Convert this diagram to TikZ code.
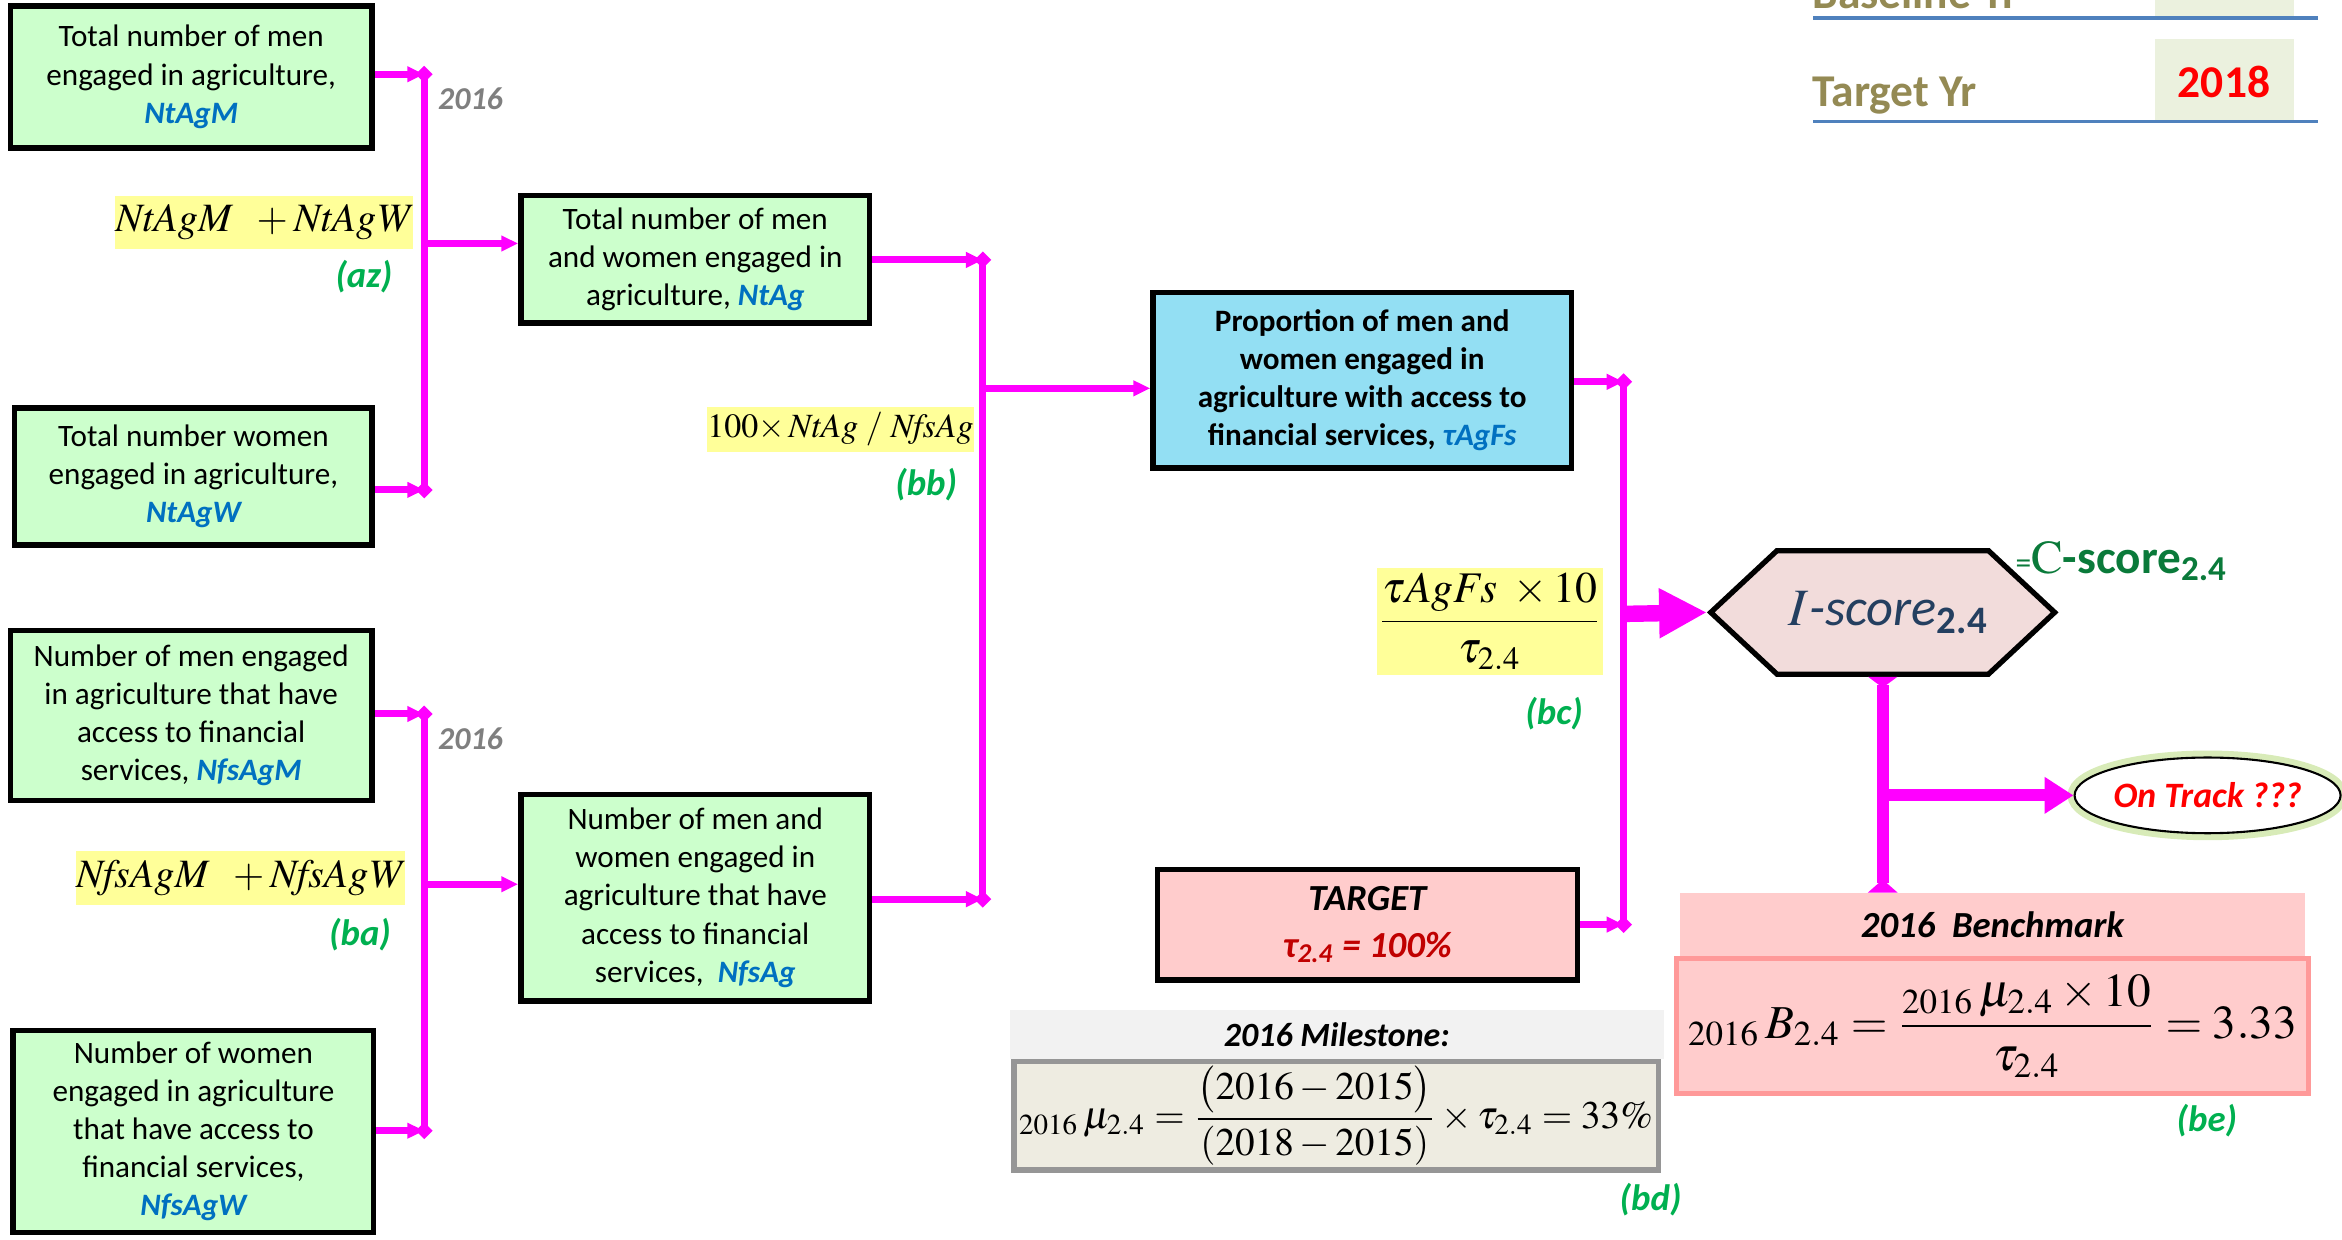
\documentclass[tikz,border=0pt]{standalone}
\usepackage{mathptmx}
\usepackage[no-math]{fontspec}
\setmainfont{Carlito}
\usetikzlibrary{arrows.meta,shapes.geometric,shapes.symbols}

\definecolor{boxgreen}{HTML}{CCFFCC}
\definecolor{boxcyan}{HTML}{93DFF3}
\definecolor{formyellow}{HTML}{FFFF99}
\definecolor{linkmag}{HTML}{FF00FF}
\definecolor{varblue}{HTML}{0070C0}
\definecolor{labgreen}{HTML}{00B050}
\definecolor{yeargray}{HTML}{7F7F7F}
\definecolor{hexfill}{HTML}{F2DCDB}
\definecolor{hextext}{HTML}{243F60}
\definecolor{cscore}{HTML}{0A7A3A}
\definecolor{tgtfill}{HTML}{FFCCCC}
\definecolor{tgtred}{HTML}{C00000}
\definecolor{benchline}{HTML}{FF9999}
\definecolor{mshead}{HTML}{F2F2F2}
\definecolor{msfill}{HTML}{EEECE1}
\definecolor{msline}{HTML}{969696}
\definecolor{yrolive}{HTML}{948A54}
\definecolor{yrline}{HTML}{4F81BD}
\definecolor{yrfill}{HTML}{EBF1DE}
\definecolor{glowgreen}{HTML}{C8E39A}

\newcommand\var[1]{{\color{varblue}\bfseries\itshape #1}}
\newcommand\boxfont{\fontsize{8.9}{10.9}\selectfont}

\begin{document}
\begin{tikzpicture}[x=0.15mm,y=-0.15mm,
	box/.style={draw, line width=1.6pt, fill=boxgreen, align=center, inner sep=0pt, font=\boxfont},
	formula/.style={fill=formyellow, inner sep=0pt},
	eqtag/.style={anchor=east, text=labgreen, font=\fontsize{10.5}{12}\selectfont\bfseries\itshape},
	yearlbl/.style={text=yeargray, font=\fontsize{9.1}{11}\selectfont\bfseries\itshape},
	yrtext/.style={anchor=base west, text=yrolive, inner sep=0pt, font=\fontsize{13}{14}\selectfont\bfseries},
	link/.style={linkmag, line width=2pt, -{Triangle[length=1.7mm,width=1.5mm]}},
	bus/.style={linkmag, line width=2pt, {Diamond[length=1.7mm,width=1.7mm]}-{Diamond[length=1.7mm,width=1.7mm]}, shorten <=-0.85mm, shorten >=-0.85mm},
	biglink/.style={linkmag, line width=1.65mm, -{Triangle[length=4.8mm,width=4.7mm]}},
	fatlink/.style={linkmag, line width=1.2mm, -{Triangle[length=2.9mm,width=3.5mm]}},
	stem/.style={linkmag, line width=1.2mm, {Triangle[reversed,length=1.1mm,width=2.9mm]}-{Triangle[reversed,length=1.3mm,width=2.9mm]}}]
\useasboundingbox (0,0) rectangle (1568,830);

	%year table, top right
		\fill[yrfill] (1443,-5) rectangle (1536,11.5);
		\fill[yrfill] (1443,26) rectangle (1536,80.5);
		\draw[yrline, line width=0.9pt] (1214,12) -- (1552,12);
		\draw[yrline, line width=0.9pt] (1214,81.5) -- (1552,81.5);
		\begin{scope}
			\clip (0,0) rectangle (1568,830);
			\node[yrtext] (baseyr) at (1213,6) {Baseline Yr};
		\end{scope}
		\node[yrtext] (targetyr) at (1213,71) {Target Yr};
		\node[text=red, font=\fontsize{13}{14}\selectfont\bfseries] (tyear) at (1489,54.6) {2018};

	%input boxes
		\node[box, minimum width=36.3mm, minimum height=14.3mm] (ntagm) at (128,51.5)
			{Total number of men\\engaged in agriculture,\\\var{NtAgM}};
		\node[box, minimum width=35.9mm, minimum height=13.8mm] (ntagw) at (129.5,319)
			{Total number women\\engaged in agriculture,\\\var{NtAgW}};
		\node[box, minimum width=36.3mm, minimum height=17.1mm] (nfsagm) at (128,479)
			{Number of men engaged\\in agriculture that have\\access to financial\\services, \var{NfsAgM}};
		\node[box, minimum width=36.2mm, minimum height=20.3mm] (nfsagw) at (129.5,757.5)
			{Number of women\\engaged in agriculture\\that have access to\\financial services,\\\var{NfsAgW}};

	%sums
		\node[box, minimum width=35.0mm, minimum height=12.8mm] (ntag) at (465.5,173.5)
			{Total number of men\\and women engaged in\\agriculture, \var{NtAg}};
		\node[box, minimum width=35.0mm, minimum height=20.7mm] (nfsag) at (465.5,601)
			{Number of men and\\women engaged in\\agriculture that have\\access to financial\\services,~ \var{NfsAg}};
		\node[box, fill=boxcyan, minimum width=42.0mm, minimum height=17.6mm, font=\boxfont\bfseries] (tagfs) at (912,254.5)
			{Proportion of men and\\women engaged in\\agriculture with access to\\financial services, {\color{varblue}\itshape τAgFs}};
		\node[box, fill=tgtfill, minimum width=42.2mm, minimum height=11.1mm, font=\fontsize{10.5}{13.3}\selectfont\bfseries\itshape] (target) at (915.5,619)
			{TARGET\\{\color{tgtred}τ\textsubscript{2.4} = 100\%}};

	%formulas
		\node[formula, minimum width=29.9mm, minimum height=5.3mm, font=\fontsize{11.5}{12}\selectfont] (fsum1) at (176.8,148.8) {$\mathit{NtAgM}\;\;+\mathit{NtAgW}$};
		\node[formula, minimum width=33mm, minimum height=5.4mm, font=\fontsize{11.5}{12}\selectfont] (fsum2) at (161,588) {$\mathit{NfsAgM}\;\;+\mathit{NfsAgW}$};
		\node[formula, minimum width=26mm, minimum height=4.5mm, font=\fontsize{9.7}{11}\selectfont] (fratio) at (562.7,287.5) {$100{\times}\,\mathit{NtAg}\ /\ \mathit{NfsAg}$};
		\node[formula, minimum width=22.65mm, minimum height=10.8mm, font=\fontsize{12.5}{13}\selectfont] (fscore) at (997.5,416) {$\displaystyle\frac{\tau\mathit{AgFs}\ \times 10}{\tau_{2.4}}$};
		\node[eqtag] (taz) at (271,185) {(az)};
		\node[eqtag] (tba) at (270,625.6) {(ba)};
		\node[eqtag] (tbb) at (649,324.7) {(bb)};
		\node[eqtag] (tbc) at (1068,477.5) {(bc)};
		\node[eqtag] (tbd) at (1134,803.4) {(bd)};
		\node[eqtag] (tbe) at (1506,750) {(be)};
		\node[yearlbl] (yr1) at (315,66) {2016};
		\node[yearlbl] (yr2) at (315,494.5) {2016};

	%score
		\node[shape=signal, signal to=west and east, signal pointer angle=86, draw, line width=1.5pt, fill=hexfill,
			minimum width=33.5mm, minimum height=12.4mm, inner sep=0pt] (iscore) at (1260.5,410)
			{\fontsize{15}{15}\selectfont\color{hextext}\hspace{1.2mm}$I$\textit{-score}\textsubscript{\textbf{2.4}}};
		\node[anchor=west, inner sep=0pt, text=cscore, font=\fontsize{13.5}{14}\selectfont] (cscore) at (1349,376)
			{{\fontsize{9}{9}\selectfont=}$\mathrm{C}$\textbf{-score}\textsubscript{\textbf{2.4}}};
		\node[ellipse, draw, fill=white, line width=0.6pt, minimum width=26.2mm, minimum height=7.6mm, inner sep=0pt,
			preaction={draw=glowgreen, line width=4pt, opacity=0.7},
			text=red, font=\fontsize{10.2}{12}\selectfont\bfseries\itshape] (track) at (1478,532.5) {On Track ???};

	%milestone
		\node[fill=mshead, minimum width=65.7mm, minimum height=4.95mm, inner sep=0pt,
			font=\fontsize{9.7}{11}\selectfont\bfseries\itshape] (mshd) at (895,692.5) {2016 Milestone:};
		\node[draw=msline, fill=msfill, line width=1.5pt, minimum width=64.7mm, minimum height=10.9mm, inner sep=0pt,
			font=\fontsize{11.2}{12}\selectfont] (milestone) at (894.5,747)
			{$\displaystyle {}_{2016}\,\mu_{2.4}=\frac{\bigl(2016-2015\bigr)}{(2018-2015)}\times\tau_{2.4}=33\%$};

	%benchmark
		\node[fill=tgtfill, minimum width=62.7mm, minimum height=6.3mm, inner sep=0pt,
			font=\fontsize{10.5}{12}\selectfont\bfseries\itshape] (benchhd) at (1334,619) {2016~~Benchmark};
		\node[draw=benchline, fill=tgtfill, line width=1.4pt, minimum width=63.4mm, minimum height=13.6mm, inner sep=0pt,
			font=\fontsize{13.5}{14}\selectfont] (bench) at (1334,687)
			{$\displaystyle {}_{2016}\,B_{2.4}=\frac{{}_{2016}\,\mu_{2.4}\times 10}{\tau_{2.4}}=3.33$};

	%junctions
		\coordinate (j1t) at (284,49.7);
		\coordinate (j1m) at (284,163);
		\coordinate (j1b) at (284,328);
		\coordinate (j3t) at (284,478);
		\coordinate (j3m) at (284,592);
		\coordinate (j3b) at (284,757);
		\coordinate (j2t) at (658,174);
		\coordinate (j2m) at (658,260);
		\coordinate (j2b) at (658,602);
		\coordinate (j4t) at (1087,255.6);
		\coordinate (j4m) at (1087,411);
		\coordinate (j4b) at (1087,619);

	%connectors
		\draw[link] (ntagm.east |- j1t) -- (j1t);
		\draw[link] (ntagw.east |- j1b) -- (j1b);
		\draw[link] (j1m) -- (j1m -| ntag.west);
		\draw[link] (nfsagm.east |- j3t) -- (j3t);
		\draw[link] (nfsagw.east |- j3b) -- (j3b);
		\draw[link] (j3m) -- (j3m -| nfsag.west);
		\draw[link] (ntag.east |- j2t) -- (j2t);
		\draw[link] (nfsag.east |- j2b) -- (j2b);
		\draw[link] (j2m) -- (j2m -| tagfs.west);
		\draw[link] (tagfs.east |- j4t) -- (j4t);
		\draw[link] (target.east |- j4b) -- (j4b);
		\draw[bus] (j1t) -- (j1b);
		\draw[bus] (j3t) -- (j3b);
		\draw[bus] (j2t) -- (j2b);
		\draw[bus] (j4t) -- (j4b);
		\draw[biglink] (j4m) -- (iscore.west);
		\draw[stem] (iscore.south) -- (iscore.south |- benchhd.north);
		\draw[fatlink] (iscore.south |- track.west) -- (track.west);
\end{tikzpicture}
\end{document}
